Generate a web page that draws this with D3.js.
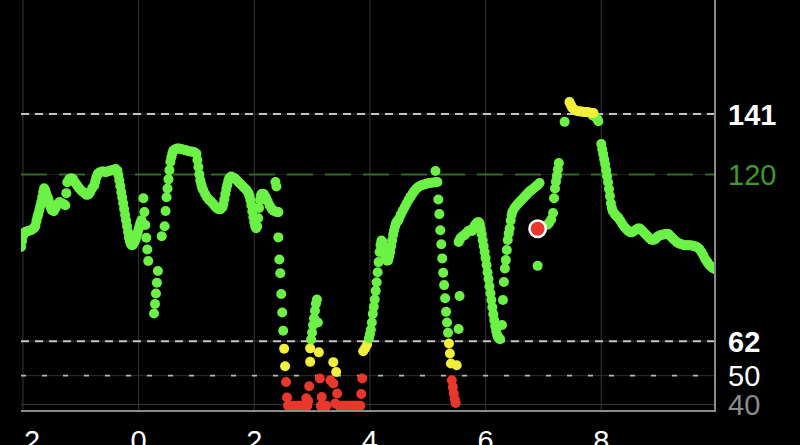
<!DOCTYPE html>
<html><head><meta charset="utf-8">
<script src="https://cdn.jsdelivr.net/npm/d3@7/dist/d3.min.js"></script>
<style>html,body{margin:0;padding:0;background:#000;overflow:hidden}</style>
</head><body><svg id="c" width="800" height="445"></svg>
<script>
// [minutes from midnight, mg/dL]
const readings = [
[-122,94.8],[-121,96.8],[-120,98.6],[-119,99.6],[-117,100.1],[-115,100.3],[-113,100.4],[-111,100.8],[-109,101.2],[-108,101.6],[-107,102.2],[-106,103.8],[-105,105.2],[-104,106.2],[-103,107.6],[-102,109.0],[-101,110.4],[-100,112.1],[-99,113.9],[-98,115.2],[-97,114.6],[-96,113.5],[-95,112.5],[-94,111.8],[-93,110.7],[-92,109.3],[-91,108.3],[-90,107.6],[-88,107.2],[-86,108.3],[-84,109.7],[-82,110.4],[-80,110.0],[-78,109.7],[-76,109.3],
[-75,113.5],[-74,117.3],[-72,118.4],[-70,118.7],[-68,118.4],[-66,117.3],[-64,116.3],[-62,115.4],[-60,114.6],[-58,114.0],[-56,113.5],[-54,112.9],[-52,113.0],[-50,114.0],[-48,115.3],[-46,116.2],[-45,117.5],[-44,118.8],[-43,119.6],[-42,120.3],[-40,120.8],[-38,121.0],[-36,121.0],[-34,120.8],[-32,121.0],[-30,121.3],[-28,121.5],[-26,121.6],[-24,121.9],[-22,121.4],[-21,119.8],[-20,118.0],[-19,116.0],[-18,113.9],[-17,112.0],[-16,110.0],[-15,108.0],[-14,106.0],[-13,104.0],[-12,102.0],[-11,100.0],[-10,98.0],[-9,96.8],[-8,95.8],[-7,95.4],[-6,95.5],[-5,96.2],[-4,96.8],[-3,97.6],[-2,98.6],[-1,99.8],[0,101.0],[1,102.1],[2,103.2],[3,104.1],
[5,111.7],[6,106.9],[7,102.4],[8,98.0],[9,93.9],[10,89.9],
[16,71.6],[17,74.9],[18,78.6],[19,82.3],[20,86.4],
[24,98.5],[27,102.0],[28,107.3],[29,112.1],[30,115.1],[31,118.3],
[32,121.5],[33,124.4],[34,126.0],[35,127.3],[36,128.3],[38,128.8],[40,129.0],[42,129.0],[44,128.9],[46,128.7],[48,128.5],[50,128.3],[52,128.1],[54,128.0],[56,127.9],[58,127.7],[60,127.2],[61,125.0],[62,122.6],[63,120.1],[64,118.0],[65,116.6],[66,115.4],[67,114.6],[69,113.2],[71,112.1],[73,111.2],[75,110.6],[77,109.9],[79,109.0],[81,108.3],[83,107.9],[85,107.9],[87,108.6],[88,109.7],[89,111.4],[90,113.2],[91,114.9],[92,116.3],[93,117.7],[94,118.7],[96,119.3],[98,118.9],[100,118.6],[102,118.0],[104,117.2],[106,116.6],[108,115.9],[110,115.2],[112,114.6],[114,113.5],[115,112.5],[116,111.1],[117,109.3],[118,107.2],[119,105.2],[120,103.4],[121,102.0],[122,101.3],[123,102.0],[124,104.8],[125,108.3],[126,111.1],[127,112.8],[128,113.3],[130,113.2],[132,112.1],[134,110.7],[136,109.2],[138,108.1],[140,107.4],[142,107.1],[144,106.9],[145,106.9],
[142,117.4],[143,115.8],
[145,98.1],[146,90.4],[147,85.6],[148,78.4],[149,72.0],[150,65.6],[151,59.4],[152,53.3],[153,47.8],[154,42.4],
[155,39.5],[157,39.5],[159,39.5],[161,39.5],[163,39.5],[165,39.5],[167,39.5],[169,39.5],[171,39.5],[173,39.5],[175,39.5],
[189,39.5],[191,39.5],[193,39.5],[195,39.5],
[208,39.5],[210,39.5],[212,39.5],[214,39.5],[216,39.5],[218,39.5],[220,39.5],[222,39.5],[224,39.5],[226,39.5],[228,39.5],[230,39.5],
[174,42.1],[176,41.2],[177,46.3],[188,49.0],[190,42.6],[199,48.4],[202,47.3],[204,40.3],[206,43.8],[231,43.6],[232,49.0],
[178,59.5],[178,54.8],[187,58.1],[202,54.7],[205,51.3],
[179,62.6],[180,65.0],[181,67.6],[182,70.0],[183,72.6],[184,75.0],[185,76.5],[186,68.5],
[233,58.5],[235,59.5],[237,60.8],[239,63.0],[240,64.4],[241,66.0],[242,68.5],[243,71.5],[244,74.0],[245,76.5],[246,79.5],[247,82.5],[248,86.0],[249,89.5],[250,93.0],[251,95.5],[252,97.0],[253,96.5],[254,95.0],[255,93.5],[256,92.0],[257,90.8],[258,90.0],[259,90.2],[260,91.5],[261,93.0],[262,95.0],[263,97.0],[264,99.0],[265,100.5],[266,101.8],[267,103.0],[268,103.5],[269,104.0],[270,104.5],[272,106.0],[274,107.4],[276,108.6],[278,109.9],[280,111.1],[282,112.2],[284,113.2],[286,114.2],[288,115.0],[290,115.6],[292,116.0],[294,116.3],[296,116.5],[298,116.7],[300,116.9],[302,117.0],[304,117.1],[306,117.2],[308,117.3],[310,117.4],
[308,121.2],
[311,111.3],[312,106.2],[313,100.6],[314,95.7],[315,90.8],[316,85.8],[317,81.5],[318,76.9],[319,72.2],[320,68.5],[321,64.9],[322,61.2],[323,57.7],[324,54.2],[325,48.4],[326,46.0],[327,43.8],[328,41.8],[329,40.5],[330,53.6],
[332,66.2],[333,77.7],
[332,96.5],[333,97.2],[334,97.9],[336,98.5],[338,98.9],[340,99.6],[342,100.3],[344,100.6],[346,100.3],[347,101.0],[348,101.7],[349,102.4],[350,102.7],[351,103.1],[352,103.4],[353,103.4],[354,102.7],[355,101.0],[356,99.2],[357,97.1],[358,95.1],[359,93.0],[360,90.9],[361,88.5],[362,86.0],[363,83.6],[364,81.1],[365,78.7],[366,76.3],[367,73.8],[368,71.4],[369,69.3],[370,67.2],[371,65.5],[372,64.1],[373,63.4],[374,62.9],[375,62.7],
[377,67.6],[378,76.3],[379,82.6],[380,87.3],[381,90.2],[382,93.7],[383,97.2],[384,99.5],[385,101.2],
[386,104.0],[387,106.0],[388,107.2],[390,108.3],[392,109.2],[394,110.0],[396,110.7],[398,111.4],[400,112.1],[402,112.8],[404,113.5],[406,114.2],[408,114.7],[410,115.2],[412,115.8],[414,116.3],[416,117.0],
[414,88.2],
[424,102.5],[426,103.2],[428,104.3],[430,106.6],[431,111.7],[432,115.1],[433,117.5],[434,119.5],[435,121.8],[436,124.0],
[442,138.3],
[474,140.0],[476,139.2],[477,138.5],[471,140.5],
[447,145.2],[448,144.5],[449,143.8],[450,143.1],[452,142.6],[454,142.2],[456,142.0],[458,141.9],[460,141.9],[462,141.7],[464,141.7],[466,141.7],[468,141.5],[470,141.5],[472,141.4],
[480,130.6],[481,128.8],[482,127.1],[483,125.3],[484,123.6],[485,121.5],[486,119.4],[487,117.3],[488,114.9],[489,112.5],[490,110.0],[491,108.3],[492,107.2],[494,106.2],[496,105.5],[498,104.8],[500,103.8],[502,102.7],[504,101.7],[506,101.0],[508,100.3],[510,99.9],[512,99.9],[514,100.3],[516,100.8],[518,101.2],[520,101.2],[522,100.6],[524,99.9],[526,99.2],[528,98.5],[530,97.8],[532,97.3],[534,97.2],[536,97.5],[538,98.2],[540,98.7],[542,98.9],[544,99.1],[546,99.2],[548,99.4],[550,99.2],[552,98.5],[554,97.8],[556,97.2],[558,96.6],[560,96.1],[562,95.8],[564,95.6],[566,95.4],[568,95.4],[570,95.4],[572,95.4],[574,95.3],[576,95.1],[578,94.9],[580,94.6],[582,94.0],[584,93.0],[586,91.8],[588,90.5],[590,89.5],[592,88.6],[594,87.9],[596,87.4],[598,87.0]
];
const currentReading = [414, 101.1];
const xTickMinutes = [-120, 0, 120, 240, 360, 480];
const xTickLabels = ["2", "0", "2", "4", "6", "8"];
const refValues = [141, 120, 62, 50, 40];
const refLabels = ["141", "120", "62", "50", "40"];
const colorBreaks = [50, 62, 141];

const svg = d3.select("#c");
const L = 21, R = 715, T = 0, B = 411;
const x = d3.scaleLinear().domain([-122, 598]).range([L, R]);
const y = d3.scaleLinear().domain([37.7, 180.7]).range([B, T]);
const color = d3.scaleThreshold().domain(colorBreaks)
  .range(["#e8382b", "#f2ee3c", "#6cf246", "#f2ee3c"]);

svg.append("rect").attr("width", 800).attr("height", 445).attr("fill", "#000");

// vertical grid
svg.append("g").selectAll("line").data(xTickMinutes).join("line")
  .attr("x1", d => x(d)).attr("x2", d => x(d)).attr("y1", T).attr("y2", B)
  .attr("stroke", "#2e2e2e").attr("stroke-width", 1.2);

// reference lines
const refStyle = {
  141: {base: "#3a3a3a", dash: "#c4c4c4", da: "8,6", w: 2},
  120: {base: "#1c1c1c", dash: "#2f6a22", da: "26,12", w: 2},
  62: {base: "#3a3a3a", dash: "#c4c4c4", da: "8,6", w: 2},
  50: {base: "#2e2e2e", dash: "#b8b8b8", da: "5,16", w: 1.6},
  40: {base: "#3c3c3c", dash: null, da: null, w: 1}
};
const rg = svg.append("g");
refValues.forEach(v => {
  const s = refStyle[v];
  rg.append("line").attr("x1", L).attr("x2", R).attr("y1", y(v)).attr("y2", y(v))
    .attr("stroke", s.base).attr("stroke-width", 1);
  if (s.dash) rg.append("line").attr("x1", L).attr("x2", R).attr("y1", y(v)).attr("y2", y(v))
    .attr("stroke", s.dash).attr("stroke-width", s.w).attr("stroke-dasharray", s.da);
});

// clip
svg.append("defs").append("clipPath").attr("id", "plot")
  .append("rect").attr("x", L).attr("y", T).attr("width", R - L).attr("height", B - T);

svg.append("g").attr("clip-path", "url(#plot)")
  .selectAll("circle").data(readings).join("circle")
  .attr("cx", d => x(d[0])).attr("cy", d => y(d[1])).attr("r", 5)
  .attr("fill", d => color(d[1]));

// current marker
svg.append("circle").attr("cx", x(currentReading[0])).attr("cy", y(currentReading[1]))
  .attr("r", 8.2).attr("fill", "#e8382b").attr("stroke", "#fff").attr("stroke-width", 2.5);

// borders
svg.append("line").attr("x1", L).attr("x2", R + 1).attr("y1", B).attr("y2", B)
  .attr("stroke", "#8a8a8a").attr("stroke-width", 2.2);
svg.append("line").attr("x1", R).attr("x2", R).attr("y1", T).attr("y2", B)
  .attr("stroke", "#8a8a8a").attr("stroke-width", 2);

// y labels
const labStyle = {
  141: {fill: "#ffffff", weight: 700},
  120: {fill: "#3f9a2c", weight: 400},
  62: {fill: "#ffffff", weight: 700},
  50: {fill: "#ffffff", weight: 400},
  40: {fill: "#8c8c8c", weight: 400}
};
svg.append("g").selectAll("text").data(refValues).join("text")
  .attr("x", 728).attr("y", d => y(d)).attr("dy", "0.36em")
  .attr("font-family", "'Liberation Sans', Arial, sans-serif").attr("font-size", 29)
  .attr("font-weight", d => labStyle[d].weight).attr("fill", d => labStyle[d].fill)
  .text((d, i) => refLabels[i]);

// x labels
svg.append("g").selectAll("text").data(xTickMinutes).join("text")
  .attr("x", (d, i) => i === 0 ? x(d) + 1 : x(d))
  .attr("text-anchor", (d, i) => i === 0 ? "start" : "middle")
  .attr("y", 451)
  .attr("font-family", "'Liberation Sans', Arial, sans-serif").attr("font-size", 29)
  .attr("fill", "#fff")
  .text((d, i) => xTickLabels[i]);
</script>
</body></html>
